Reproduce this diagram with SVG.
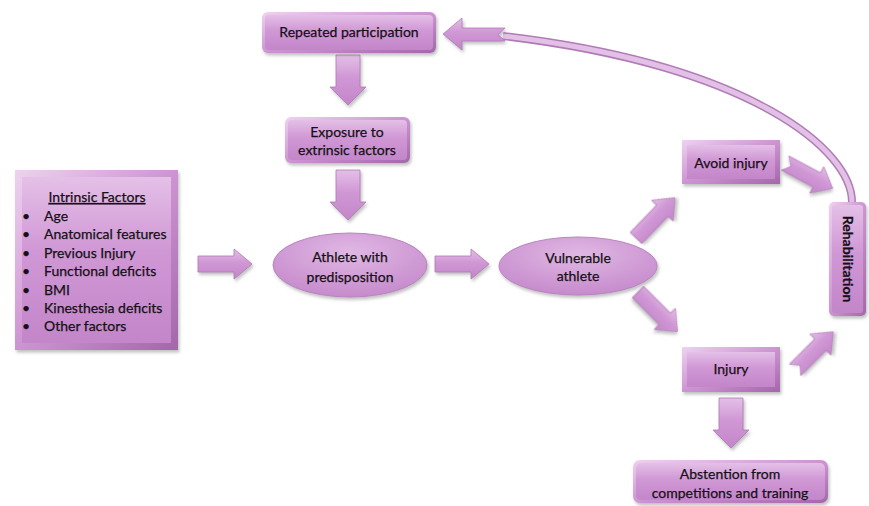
<svg xmlns="http://www.w3.org/2000/svg" xmlns:xlink="http://www.w3.org/1999/xlink" width="869" height="506" viewBox="0 0 869 506">
<style>
  .t { font-family: Lato, "Open Sans", "Liberation Sans", sans-serif; font-size: 14px; fill: #151015; stroke: #151015; stroke-width: 0.25; text-anchor: middle; }
  .l { font-family: Lato, "Open Sans", "Liberation Sans", sans-serif; font-size: 14px; fill: #151015; stroke: #151015; stroke-width: 0.25; }
  .outer { fill: url(#gBevel); filter: url(#sh); }
  .inner { fill: url(#gFill); }
  .ell { fill: url(#gEll); stroke: #bb84c1; stroke-width: 1; filter: url(#sh); }
  .arr { fill: url(#gFill); stroke: #b07ab6; stroke-width: 0.8; filter: url(#sh); }
</style>
<defs>
  <linearGradient id="gFill" x1="0" y1="0" x2="0" y2="1">
    <stop offset="0" stop-color="#e4c0e7"/>
    <stop offset="0.45" stop-color="#d097d5"/>
    <stop offset="1" stop-color="#c386c9"/>
  </linearGradient>
  <linearGradient id="gBevel" x1="0" y1="0" x2="1" y2="1">
    <stop offset="0" stop-color="#eed2f0"/>
    <stop offset="0.5" stop-color="#cd94d2"/>
    <stop offset="1" stop-color="#a466aa"/>
  </linearGradient>
  <radialGradient id="gEll" cx="0.5" cy="0.3" r="0.75">
    <stop offset="0" stop-color="#e0b8e4"/>
    <stop offset="1" stop-color="#c487ca"/>
  </radialGradient>
  <filter id="sh" x="-20%" y="-20%" width="140%" height="150%">
    <feDropShadow dx="1.5" dy="2.5" stdDeviation="1.8" flood-color="#777" flood-opacity="0.45"/>
  </filter>
  <path id="arrowR" d="M0,-8 H36 V-15 L54,0 L36,15 V8 H0 Z"/>
  <path id="arrowD" d="M-12,0 H12 V32 H18 L0,50 L-18,32 H-12 Z"/>
  <path id="arrowDiag" d="M0,-8 H38 V-15 L56,0 L38,15 V8 H0 Z"/>
  <path id="arrowNotch" d="M0,-8 H36 V-15 L54,0 L36,15 V8 H0 L7,0 Z"/>
</defs>

<g id="connectors">
  <path d="M852,203 C853,150 750,65 503,36" fill="none" stroke="#b07bb6" stroke-width="8"/>
  <path d="M852,203 C853,150 750,65 503,36" fill="none" stroke="#e3c0e6" stroke-width="5"/>
  <path class="arr" d="M505,28 L462,28 L462,18 L443,34 L462,50 L462,41 L505,41 L498,34.5 Z"/>
  <use xlink:href="#arrowD" class="arr" transform="translate(348,55)"/>
  <use xlink:href="#arrowD" class="arr" transform="translate(348,170)"/>
  <use xlink:href="#arrowR" class="arr" transform="translate(198,264)"/>
  <use xlink:href="#arrowR" class="arr" transform="translate(435,264)"/>
  <use xlink:href="#arrowDiag" class="arr" transform="translate(636,238) rotate(-46)"/>
  <use xlink:href="#arrowDiag" class="arr" transform="translate(638,292) rotate(45)"/>
  <use xlink:href="#arrowNotch" class="arr" transform="translate(785,163) rotate(28)"/>
  <use xlink:href="#arrowNotch" class="arr" transform="translate(795,370) rotate(-45)"/>
  <use xlink:href="#arrowD" class="arr" transform="translate(731,398)"/>
</g>

<g id="repeated">
  <rect class="outer" x="262" y="12" width="174" height="41" rx="6"/>
  <rect class="inner" x="265" y="15" width="168" height="35" rx="4"/>
  <text class="t" x="349" y="37">Repeated participation</text>
</g>

<g id="exposure">
  <rect class="outer" x="285" y="117" width="125" height="46" rx="6"/>
  <rect class="inner" x="288" y="120" width="119" height="40" rx="4"/>
  <text class="t" x="347" y="137">Exposure to</text>
  <text class="t" x="347" y="155">extrinsic factors</text>
</g>

<g id="intrinsic">
  <rect class="outer" x="15" y="170" width="163" height="180"/>
  <rect class="inner" x="22" y="177" width="149" height="166"/>
  <text class="l" x="97" y="202" text-anchor="middle" text-decoration="underline">Intrinsic Factors</text>
  <g class="l">
    <text x="22" y="221">•</text><text x="44" y="221">Age</text>
    <text x="22" y="239">•</text><text x="44" y="239">Anatomical features</text>
    <text x="22" y="258">•</text><text x="44" y="258">Previous Injury</text>
    <text x="22" y="276">•</text><text x="44" y="276">Functional deficits</text>
    <text x="22" y="295">•</text><text x="44" y="295">BMI</text>
    <text x="22" y="313">•</text><text x="44" y="313">Kinesthesia deficits</text>
    <text x="22" y="331">•</text><text x="44" y="331">Other factors</text>
  </g>
</g>

<g id="athlete">
  <ellipse class="ell" cx="350" cy="265" rx="77" ry="32"/>
  <text class="t" x="350" y="262">Athlete with</text>
  <text class="t" x="350" y="282">predisposition</text>
</g>

<g id="vulnerable">
  <ellipse class="ell" cx="578" cy="266" rx="79" ry="29"/>
  <text class="t" x="578" y="263">Vulnerable</text>
  <text class="t" x="578" y="281">athlete</text>
</g>

<g id="avoid">
  <rect class="outer" x="682" y="140" width="98" height="44"/>
  <rect class="inner" x="687" y="145" width="88" height="34"/>
  <text class="t" x="731" y="168">Avoid injury</text>
</g>

<g id="injury">
  <rect class="outer" x="682" y="347" width="98" height="45"/>
  <rect class="inner" x="687" y="352" width="88" height="35"/>
  <text class="t" x="731" y="374">Injury</text>
</g>

<g id="rehabilitation">
  <rect class="outer" x="829" y="202" width="37" height="114" rx="5"/>
  <rect class="inner" x="832" y="205" width="31" height="108" rx="3"/>
  <text class="t" transform="translate(848,259) rotate(90)" x="0" y="5" font-weight="bold">Rehabilitation</text>
</g>

<g id="abstention">
  <rect class="outer" x="633" y="460" width="195" height="43" rx="7"/>
  <rect class="inner" x="636" y="463" width="189" height="37" rx="5"/>
  <text class="t" x="730" y="479">Abstention from</text>
  <text class="t" x="730" y="498">competitions and training</text>
</g>
</svg>
